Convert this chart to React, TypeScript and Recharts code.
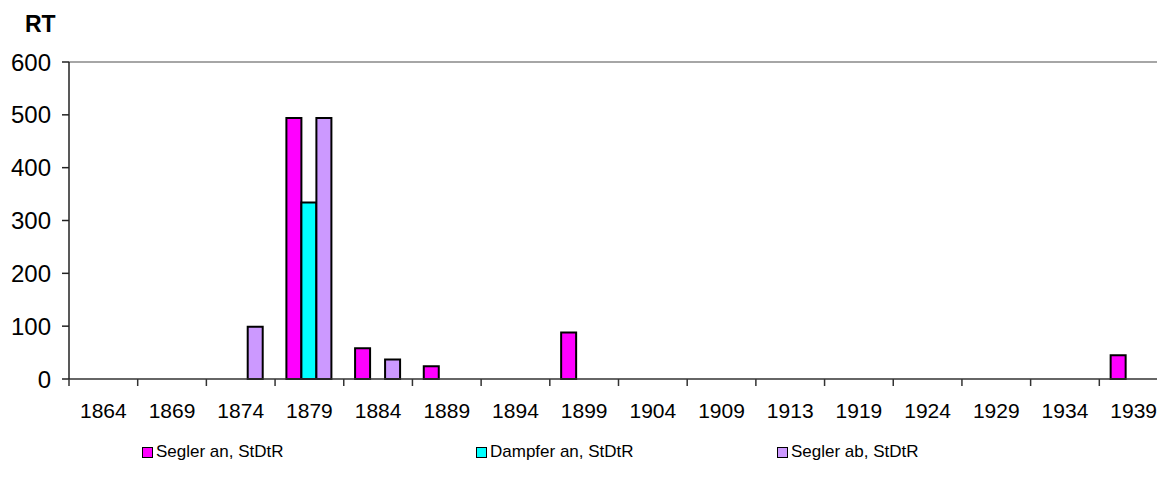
import React from 'react';
import { BarChart, Bar, XAxis, YAxis, ReferenceLine } from 'recharts';

// Years shown on the category axis
const years = ['1864', '1869', '1874', '1879', '1884', '1889', '1894', '1899', '1904', '1909', '1913', '1919', '1924', '1929', '1934', '1939'];

// RT values per series (null = no bar)
const seglerAn = [null, null, null, 494, 58, 24, null, 88, null, null, null, null, null, null, null, 45];
const dampferAn = [null, null, null, 334, null, null, null, null, null, null, null, null, null, null, null, null];
const seglerAb = [null, null, 99, 494, 37, null, null, null, null, null, null, null, null, null, null, null];

const yTicks = [0, 100, 200, 300, 400, 500, 600];
// integer positions = tick marks between categories, half positions = year labels
const xTicks = Array.from({ length: years.length * 2 + 1 }, (_, i) => i / 2);

const series = [
    { key: 'seglerAn', name: 'Segler an, StDtR', color: '#ff00ff' },
    { key: 'dampferAn', name: 'Dampfer an, StDtR', color: '#00ffff' },
    { key: 'seglerAb', name: 'Segler ab, StDtR', color: '#cc99ff' },
];

const data = years.map((year, i) => ({
    year,
    pos: i + 0.5,
    seglerAn: seglerAn[i],
    dampferAn: dampferAn[i],
    seglerAb: seglerAb[i],
}));

const font = '"Liberation Sans", Arial, sans-serif';

// legend column widths, Excel-like spacing
const legendWidths = [334, 301, 200];

const YearTick = (props: any) => {
    const { x, y, payload } = props;
    const v = payload.value;
    if (Number.isInteger(v)) {
        return <line x1={x} x2={x} y1={y} y2={y + 7} stroke="#333" strokeWidth={1.5} />;
    }
    return (
        <text x={x} y={y + 24} dy="0.71em" textAnchor="middle" fontSize={21} fill="#000" fontFamily={font}>
            {years[Math.floor(v)]}
        </text>
    );
};

export default function App() {
    return (
        <div style={{ position: 'relative', width: 1157, height: 469, overflow: 'hidden', fontFamily: font }}>
            <div style={{ position: 'absolute', left: 17, top: 5, fontSize: 23, fontWeight: 'bold', lineHeight: 1 }}>RT</div>
            <BarChart
                width={1165}
                height={469}
                data={data}
                margin={{ top: 54, right: 5, left: 0, bottom: 58 }}
                barCategoryGap="16.5%"
                barGap={0}
            >
                {/* visible axis: boundary tick marks and centred year labels */}
                <XAxis
                    xAxisId="grid"
                    dataKey="pos"
                    type="number"
                    domain={[0, years.length]}
                    ticks={xTicks}
                    interval={0}
                    allowDataOverflow
                    height={40}
                    tickSize={0}
                    tickMargin={0}
                    tickLine={false}
                    tick={<YearTick />}
                    axisLine={{ stroke: '#333', strokeWidth: 1.5 }}
                />
                <XAxis dataKey="year" hide height={0} />
                <YAxis
                    width={61}
                    domain={[0, 600]}
                    ticks={yTicks}
                    tickSize={7}
                    tickMargin={11}
                    tickLine={{ stroke: '#222', strokeWidth: 1.5 }}
                    axisLine={{ stroke: '#222', strokeWidth: 1.5 }}
                    tick={{ fontSize: 24, fill: '#000', fontFamily: font }}
                />
                <ReferenceLine y={600} stroke="#888" strokeWidth={1.5} />
                {series.map((s) => (
                    <Bar
                        key={s.key}
                        dataKey={s.key}
                        name={s.name}
                        fill={s.color}
                        stroke="#000"
                        strokeWidth={2}
                        isAnimationActive={false}
                    />
                ))}
            </BarChart>
            <div style={{ position: 'absolute', top: 434, left: 0, display: 'flex', paddingLeft: 134, fontSize: 17, color: '#000' }}>
                {series.map((s, i) => (
                    <div key={s.key} style={{ width: legendWidths[i], display: 'flex', alignItems: 'center' }}>
                        <span style={{ width: 9, height: 9, background: s.color, border: '1px solid #000', marginRight: 3, display: 'inline-block' }} />
                        <span>{s.name}</span>
                    </div>
                ))}
            </div>
        </div>
    );
}
